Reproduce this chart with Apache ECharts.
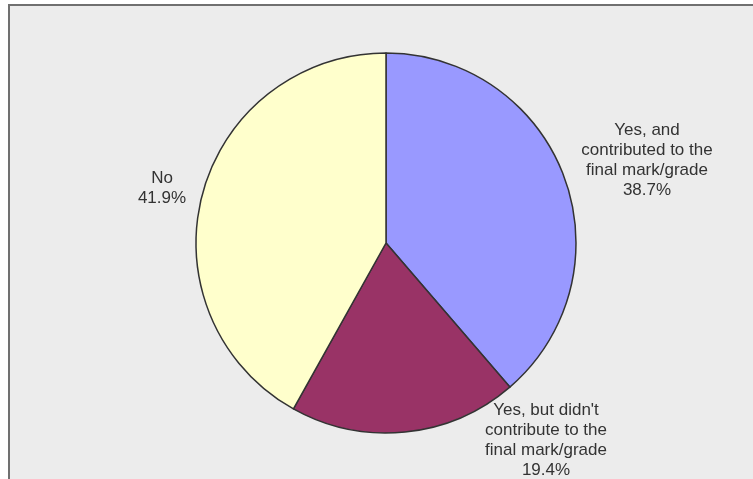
<!DOCTYPE html>
<html>
<head>
<meta charset="utf-8">
<script src="https://cdn.jsdelivr.net/npm/echarts@6/dist/echarts.min.js"></script>
<style>
  html, body { margin: 0; padding: 0; background: #fff; }
  #chart { width: 753px; height: 479px; }
</style>
</head>
<body>
<div id="chart"></div>
<script>
// answers and their shares (%)
const categories = [
  'Yes, and\ncontributed to the\nfinal mark/grade',
  'Yes, but didn\'t\ncontribute to the\nfinal mark/grade',
  'No'
]
const shares = [38.7, 19.4, 41.9]
const colors = ['#9999ff', '#993366', '#ffffcc']

// where each label block sits (centre)
const labelSpots = [[647, 160], [546, 440], [162, 188]]

const chart = echarts.init(document.getElementById('chart'))
chart.setOption({
  animation: false,
  graphic: [{
    type: 'rect',
    shape: { x: 9, y: 5, width: 800, height: 520 },
    style: { fill: '#ececec', stroke: '#707070', lineWidth: 2 },
    z: -10
  }],
  series: [{
    type: 'pie',
    center: [386, 243],
    radius: [0, 190],
    startAngle: 90,
    clockwise: true,
    itemStyle: { borderColor: '#333', borderWidth: 1.5 },
    label: {
      show: true,
      position: 'inside',
      overflow: 'none',
      formatter: p => p.name + '\n' + p.value.toFixed(1) + '%',
      fontFamily: 'Liberation Sans, Arial, sans-serif',
      fontSize: 17,
      lineHeight: 20,
      color: '#333',
      align: 'center'
    },
    labelLine: { show: false },
    labelLayout: params => {
      const s = labelSpots[params.dataIndex]
      return { x: s[0], y: s[1], align: 'center', verticalAlign: 'middle' }
    },
    emphasis: { disabled: true },
    data: categories.map((c, i) => ({
      name: c,
      value: shares[i],
      itemStyle: { color: colors[i] }
    }))
  }]
})
</script>
</body>
</html>
